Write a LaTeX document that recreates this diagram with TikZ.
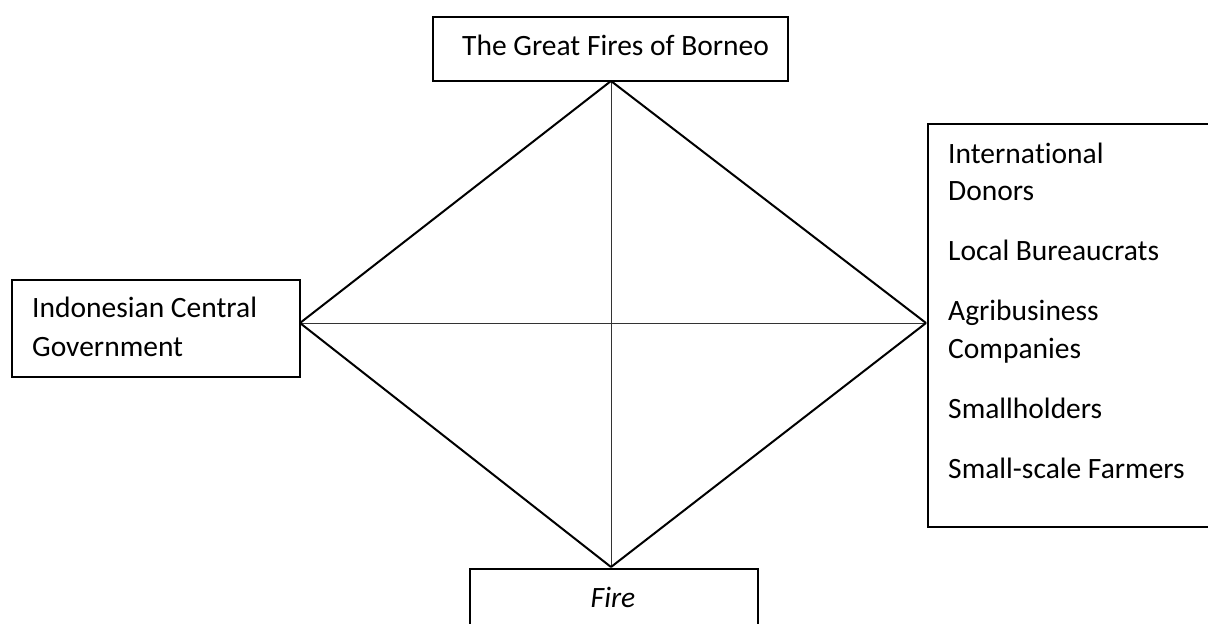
\documentclass[tikz,border=0pt]{standalone}
\usepackage{fontspec}
\setmainfont{Carlito}[RawFeature={-liga;-clig;-calt;-dlig}]
\begin{document}
\begin{tikzpicture}[x=1pt,y=-1pt,
  box/.style={draw, line width=2.2pt, rectangle, inner sep=0pt, anchor=north west},
  txt/.style={anchor=base west, inner sep=0pt, font=\fontsize{29.5}{38}\selectfont},
  edge/.style={line width=2pt, line join=miter},
  axis/.style={line width=1pt, draw=black!80}]
\useasboundingbox (0,0) rectangle (1208,624);
\clip (0,0) rectangle (1208,624);
% boxes
\node[box, minimum width=355pt, minimum height=64pt] (topbox) at (432,16) {};
\node[box, minimum width=288pt, minimum height=97pt] (leftbox) at (11,279) {};
\node[box, minimum width=290pt, minimum height=403pt] (rightbox) at (927,123) {};
\node[box, minimum width=288pt, minimum height=100pt] (bottombox) at (469,568) {};
% texts
\node[txt] (t1) at (462,55) {The Great Fires of Borneo};
\node[txt] (l1) at (32,317) {Indonesian Central};
\node[txt] (l2) at (32,356) {Government};
\node[txt] (r1) at (948,163) {Interna\kern0pt tional};
\node[txt] (r2) at (948,200) {Donors};
\node[txt] (r3) at (948,260) {Local Bureaucrats};
\node[txt] (r4) at (948,320) {Agribusiness};
\node[txt] (r5) at (948,358) {Companies};
\node[txt] (r6) at (948,418) {Smallholders};
\node[txt] (r7) at (948,478) {Small-scale Farmers};
\node[txt, anchor=base] (b1) at (613,607) {\itshape Fire};
% diamond vertices
\coordinate (T) at (611,81);
\coordinate (L) at (300,323);
\coordinate (R) at (926,323);
\coordinate (B) at (611,567);
\draw[axis] (T) -- (B);
\draw[axis] (L) -- (R);
\draw[edge] (T) -- (L);
\draw[edge] (T) -- (R);
\draw[edge] (B) -- (L);
\draw[edge] (B) -- (R);
\end{tikzpicture}
\end{document}
